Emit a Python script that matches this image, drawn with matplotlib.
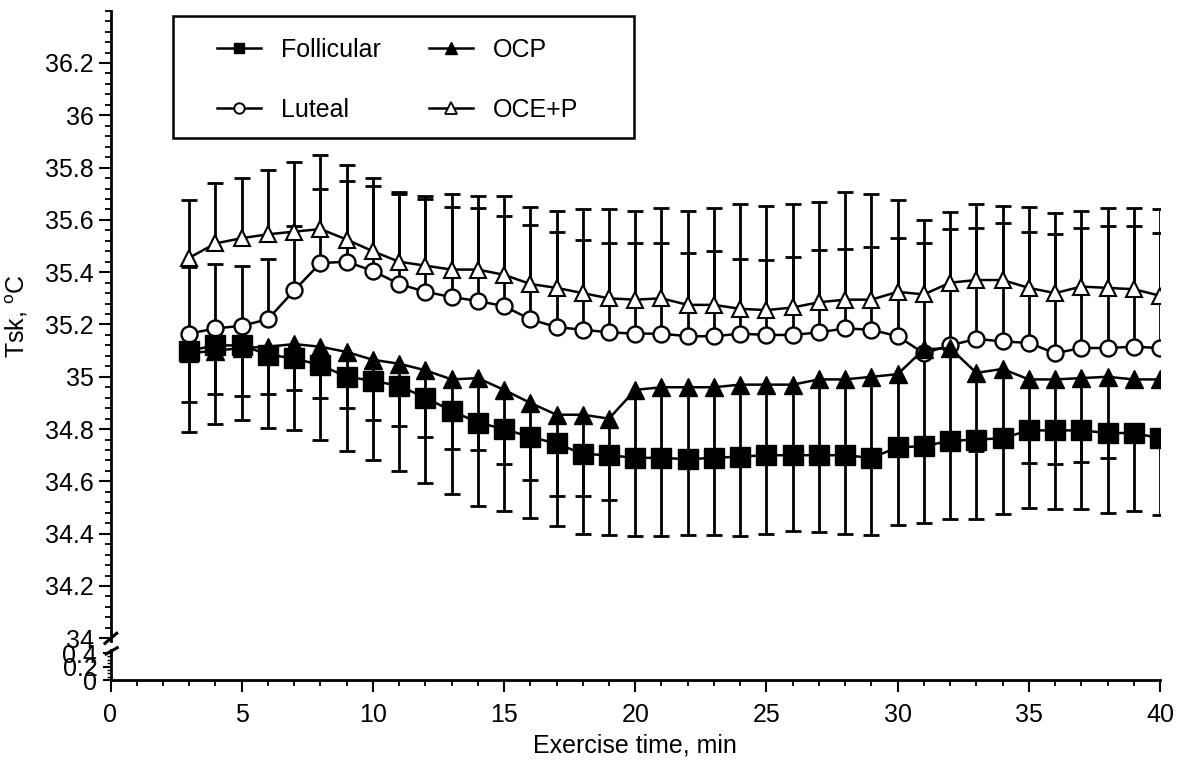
import numpy as np
import matplotlib
matplotlib.use("Agg")
import matplotlib.pyplot as plt
from matplotlib.lines import Line2D
from matplotlib.patches import Rectangle
from matplotlib.ticker import MultipleLocator, FuncFormatter

plt.rcParams['font.family'] = ['Liberation Sans', 'DejaVu Sans']
plt.rcParams['mathtext.fontset'] = 'custom'
plt.rcParams['mathtext.rm'] = 'Liberation Sans'
plt.rcParams['mathtext.it'] = 'Liberation Sans'

# ---------------- data ----------------
time_min = list(range(3, 41))

follicular = [35.10, 35.12, 35.12, 35.085, 35.07, 35.045, 35.00, 34.985, 34.965, 34.92,
              34.87, 34.825, 34.80, 34.77, 34.745, 34.705, 34.70, 34.69, 34.69, 34.685,
              34.69, 34.695, 34.70, 34.70, 34.70, 34.70, 34.69, 34.73, 34.735, 34.755,
              34.76, 34.765, 34.795, 34.795, 34.795, 34.785, 34.785, 34.765]
follicular_sd = [0.31, 0.30, 0.285, 0.28, 0.275, 0.285, 0.285, 0.305, 0.325, 0.325,
                 0.32, 0.32, 0.315, 0.31, 0.315, 0.305, 0.305, 0.30, 0.30, 0.29,
                 0.295, 0.305, 0.30, 0.29, 0.295, 0.30, 0.295, 0.295, 0.295, 0.30,
                 0.305, 0.29, 0.295, 0.30, 0.30, 0.305, 0.30, 0.295]

luteal = [35.165, 35.185, 35.195, 35.22, 35.33, 35.435, 35.44, 35.405, 35.355, 35.325,
          35.305, 35.29, 35.27, 35.22, 35.19, 35.18, 35.17, 35.165, 35.165, 35.155,
          35.155, 35.165, 35.16, 35.16, 35.17, 35.185, 35.18, 35.155, 35.09, 35.12,
          35.145, 35.135, 35.13, 35.09, 35.11, 35.11, 35.115, 35.11]
luteal_sd = [0.255, 0.245, 0.23, 0.23, 0.245, 0.285, 0.31, 0.325, 0.345, 0.355,
             0.345, 0.355, 0.345, 0.36, 0.365, 0.345, 0.34, 0.345, 0.345, 0.32,
             0.325, 0.285, 0.285, 0.30, 0.315, 0.305, 0.315, 0.375, 0.42, 0.445,
             0.425, 0.455, 0.425, 0.455, 0.46, 0.465, 0.46, 0.44]

ocp = [35.09, 35.10, 35.11, 35.115, 35.125, 35.115, 35.095, 35.065, 35.05, 35.025,
       34.99, 34.995, 34.95, 34.90, 34.855, 34.855, 34.84, 34.95, 34.96, 34.96,
       34.96, 34.97, 34.97, 34.97, 34.99, 34.99, 35.00, 35.01, 35.105, 35.11,
       35.015, 35.03, 34.99, 34.99, 34.995, 35.00, 34.99, 34.99]
ocp_sd = [0.185, 0.165, 0.185, 0.18, 0.175, 0.195, 0.215, 0.23, 0.24, 0.255,
          0.265, 0.275, 0.285, 0.295, 0.31, 0.31, 0.31, 0.26, 0.27, 0.275,
          0.27, 0.275, 0.27, 0.27, 0.29, 0.29, 0.31, 0.28, 0.37, 0.355,
          0.30, 0.265, 0.32, 0.325, 0.32, 0.31, 0.03, 0.03]

oce_p = [35.455, 35.51, 35.53, 35.545, 35.555, 35.565, 35.525, 35.48, 35.44, 35.425,
         35.41, 35.41, 35.39, 35.355, 35.34, 35.32, 35.30, 35.295, 35.30, 35.275,
         35.275, 35.26, 35.255, 35.265, 35.285, 35.295, 35.295, 35.325, 35.315, 35.36,
         35.37, 35.37, 35.34, 35.32, 35.345, 35.34, 35.335, 35.31]
oce_p_sd = [0.22, 0.23, 0.23, 0.245, 0.265, 0.285, 0.285, 0.28, 0.265, 0.265,
            0.29, 0.28, 0.30, 0.295, 0.295, 0.32, 0.34, 0.34, 0.345, 0.36,
            0.37, 0.40, 0.40, 0.395, 0.385, 0.41, 0.405, 0.35, 0.285, 0.27,
            0.29, 0.285, 0.31, 0.305, 0.29, 0.305, 0.31, 0.33]

series_names = ['Follicular', 'Luteal', 'OCP', 'OCE+P']
x_ticks = [0, 5, 10, 15, 20, 25, 30, 35, 40]
y_ticks_top = [34, 34.2, 34.4, 34.6, 34.8, 35, 35.2, 35.4, 35.6, 35.8, 36, 36.2]
y_ticks_bottom = [0, 0.2, 0.4]

# ---------------- figure ----------------
W, H = 1178, 761
fig = plt.figure(figsize=(W / 100, H / 100), dpi=100)


def fx(px):
    return px / W


def fy(py):
    return 1 - py / H


left_px, right_px = 110.5, 1160
ax = fig.add_axes([fx(left_px), fy(640.9), fx(right_px - left_px), (640.9 - 10.7) / H])
axb = fig.add_axes([fx(left_px), fy(680), fx(right_px - left_px), 30 / H], sharex=ax)

FS = 18
t = np.array(time_min)
zeros = np.zeros(len(t))

err_kw = dict(fmt='none', ecolor='black', elinewidth=2.0, capsize=6, capthick=2.0, zorder=2)


def one_sided(mean, sd, direction):
    mean = np.array(mean)
    sd = np.array(sd)
    yerr = [sd, zeros] if direction == 'down' else [zeros, sd]
    cont = ax.errorbar(t, mean, yerr=yerr, **err_kw)
    for cl in cont[1]:
        if np.allclose(cl.get_ydata(), mean):
            cl.set_visible(False)


one_sided(oce_p, oce_p_sd, 'up')
one_sided(luteal, luteal_sd, 'up')
one_sided(ocp, ocp_sd, 'down')
one_sided(follicular, follicular_sd, 'down')

line_kw = dict(color='black', lw=1.8)
ax.plot(t, luteal, marker='o', ms=11.5, mfc='white', mec='black', mew=1.7, zorder=3, **line_kw)
ax.plot(t, oce_p, marker='^', ms=12, mfc='white', mec='black', mew=1.5, zorder=4, **line_kw)
ax.plot(t, ocp, marker='^', ms=12.5, mfc='black', mec='black', mew=1.0, zorder=5, **line_kw)
ax.plot(t, follicular, marker='s', ms=14, mfc='black', mec='black', mew=1.0, zorder=6, **line_kw)

# ---------------- axes styling ----------------
ax.set_xlim(0, 40)
ax.set_ylim(33.99, 36.4)
axb.set_ylim(0, 0.445)

for s in ['top', 'right', 'bottom']:
    ax.spines[s].set_visible(False)
for s in ['top', 'right']:
    axb.spines[s].set_visible(False)
ax.spines['left'].set_linewidth(2.0)
axb.spines['left'].set_linewidth(2.0)
axb.spines['bottom'].set_linewidth(2.0)

ax.tick_params(axis='x', which='both', bottom=False, labelbottom=False)
ax.set_yticks(y_ticks_top)
ax.yaxis.set_major_formatter(FuncFormatter(lambda v, p: f'{round(v, 2):g}'))
ax.yaxis.set_minor_locator(MultipleLocator(0.04))
ax.tick_params(axis='y', which='major', length=8.6, width=1.5, labelsize=FS, pad=3.5, direction='out')
ax.tick_params(axis='y', which='minor', length=4, width=1.3, direction='out')

axb.set_xticks(x_ticks)
axb.xaxis.set_minor_locator(MultipleLocator(1))
axb.tick_params(axis='x', which='major', length=8.6, width=1.5, labelsize=FS, pad=8, direction='out')
axb.tick_params(axis='x', which='minor', length=4.3, width=1.3, direction='out')
axb.set_yticks(y_ticks_bottom)
axb.yaxis.set_major_formatter(FuncFormatter(lambda v, p: f'{round(v, 2):g}'))
axb.yaxis.set_minor_locator(MultipleLocator(0.05))
axb.tick_params(axis='y', which='major', length=6, width=1.5, labelsize=FS, pad=3.5, direction='out')
axb.tick_params(axis='y', which='minor', length=3, width=1.0, direction='out')
axb.patch.set_alpha(0)

# break marks
for (x0, y0, x1, y1) in [(105, 643.3, 116.7, 633.3), (106, 654, 117.3, 647.7)]:
    fig.add_artist(Line2D([fx(x0), fx(x1)], [fy(y0), fy(y1)], transform=fig.transFigure,
                          color='black', lw=2.2))

# labels
fig.text(fx(17), fy(316), r'Tsk, $^{\mathrm{o}}$C', rotation=90, ha='center', va='center', fontsize=FS)
fig.text(fx(635), fy(745), 'Exercise time, min', ha='center', va='center', fontsize=FS)

# legend
handles = [
    Line2D([], [], color='black', lw=1.8, marker='s', ms=7.5, mfc='black', mec='black'),
    Line2D([], [], color='black', lw=1.8, marker='o', ms=7.5, mfc='white', mec='black', mew=1.4),
    Line2D([], [], color='black', lw=1.8, marker='^', ms=8.5, mfc='black', mec='black'),
    Line2D([], [], color='black', lw=1.8, marker='^', ms=8.5, mfc='white', mec='black', mew=1.3),
]
leg = fig.legend(handles, series_names, ncol=2, loc='upper left',
                 bbox_to_anchor=(fx(217), fy(38)), bbox_transform=fig.transFigure,
                 frameon=False, fontsize=FS, borderpad=0, borderaxespad=0,
                 handlelength=1.76, handletextpad=0.8, columnspacing=1.92,
                 labelspacing=1.44)
fig.add_artist(Rectangle((fx(173), fy(138)), fx(634 - 173), (138 - 16) / H,
                         transform=fig.transFigure, fill=False, edgecolor='black', lw=1.8))

fig.savefig('out.png', dpi=100)
